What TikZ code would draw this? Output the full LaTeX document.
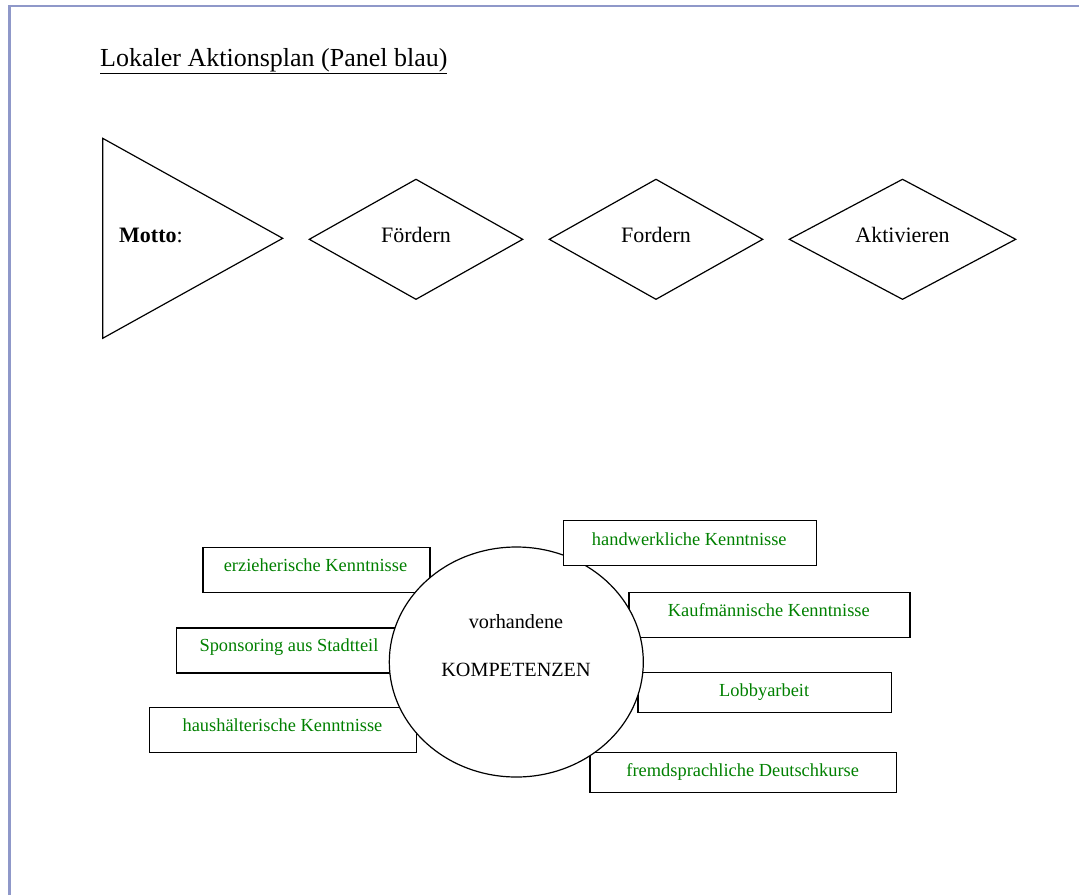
\documentclass[tikz,border=0pt]{standalone}
\usepackage{fontspec}
\setmainfont{Liberation Serif}
\usetikzlibrary{shapes.geometric}
\definecolor{framecol}{RGB}{143,152,201}
\definecolor{kgreen}{RGB}{0,128,0}
\begin{document}
\begin{tikzpicture}[x=1pt,y=-1pt,
  shapeline/.style={draw=black,line width=1.2pt,line join=miter},
  kbox/.style={draw=black,line width=1.2pt,fill=white,anchor=north west,inner sep=0pt},
  ktext/.style={text=kgreen,font=\fontsize{18.4}{22}\selectfont,anchor=base,inner sep=0pt},
  dtext/.style={font=\fontsize{22}{26}\selectfont,anchor=base,inner sep=0pt},
  ctext/.style={font=\fontsize{20.2}{24}\selectfont,anchor=base,inner sep=0pt},
]
\useasboundingbox (0,0) rectangle (1079,895);
% frame
\coordinate (fa) at (9.5,895);
\coordinate (fb) at (9.5,6);
\coordinate (fc) at (1079,6);
\draw[framecol,line width=2.6pt] (fa) -- (fb) -- (fc);
% title
\node[font=\fontsize{26}{30}\selectfont,anchor=base west,inner sep=0pt] (title) at (100,66) {\underline{Lokaler Aktionsplan (Panel blau)}};
% triangle
\coordinate (t1) at (102.7,138.3);
\coordinate (t2) at (102.7,338.3);
\coordinate (t3) at (282.7,238.3);
\draw[shapeline] (t1) -- (t3) -- (t2) -- cycle;
\node[dtext,anchor=base west] (motto) at (119,242.5) {\textbf{Motto}:};
% diamonds
\coordinate (d1l) at (309.3,239.3); \coordinate (d1t) at (416,179.3);
\coordinate (d1r) at (522.7,239.3); \coordinate (d1b) at (416,299.3);
\draw[shapeline] (d1l) -- (d1t) -- (d1r) -- (d1b) -- cycle;
\node[dtext] (foerdern) at (416,242.7) {Fördern};
\coordinate (d2l) at (549.3,239.3); \coordinate (d2t) at (656,179.3);
\coordinate (d2r) at (762.7,239.3); \coordinate (d2b) at (656,299.3);
\draw[shapeline] (d2l) -- (d2t) -- (d2r) -- (d2b) -- cycle;
\node[dtext] (fordern) at (656,242.7) {Fordern};
\coordinate (d3l) at (789.3,239.3); \coordinate (d3t) at (902.5,179.3);
\coordinate (d3r) at (1015.7,239.3); \coordinate (d3b) at (902.5,299.3);
\draw[shapeline] (d3l) -- (d3t) -- (d3r) -- (d3b) -- cycle;
\node[dtext] (aktivieren) at (902.5,242.7) {Aktivieren};
% boxes behind the circle
\node[kbox,minimum width=227pt,minimum height=45pt] (b1) at (202.3,546.7) {};
\node[kbox,minimum width=226pt,minimum height=45pt] (b2) at (175.7,627.3) {};
\node[kbox,minimum width=267pt,minimum height=45pt] (b3) at (149,706.7) {};
\node[kbox,minimum width=281pt,minimum height=45pt] (b5) at (628.3,591.7) {};
\node[kbox,minimum width=253.7pt,minimum height=40pt] (b6) at (637.3,671.7) {};
\node[kbox,minimum width=306.7pt,minimum height=40pt] (b7) at (589.3,751.7) {};
% circle
\node[draw=black,line width=1.2pt,fill=white,ellipse,minimum width=254pt,minimum height=230pt,inner sep=0pt] (k) at (516.3,662) {};
% box in front of the circle
\node[kbox,minimum width=253.3pt,minimum height=45pt] (b4) at (562.7,520) {};
% texts
\node[ctext] (kv) at (516,628.5) {vorhandene};
\node[ctext] (kk) at (516,676) {KOMPETENZEN};
\node[ktext] (l1) at (315.5,571.7) {erzieherische Kenntnisse};
\node[ktext] (l2) at (289,651.7) {Sponsoring aus Stadtteil};
\node[ktext] (l3) at (282.5,731.7) {haushälterische Kenntnisse};
\node[ktext] (l4) at (689.3,545) {handwerkliche Kenntnisse};
\node[ktext] (l5) at (768.8,616.7) {Kaufmännische Kenntnisse};
\node[ktext] (l6) at (764.2,696.7) {Lobbyarbeit};
\node[ktext] (l7) at (742.7,776.7) {fremdsprachliche Deutschkurse};
\end{tikzpicture}
\end{document}
